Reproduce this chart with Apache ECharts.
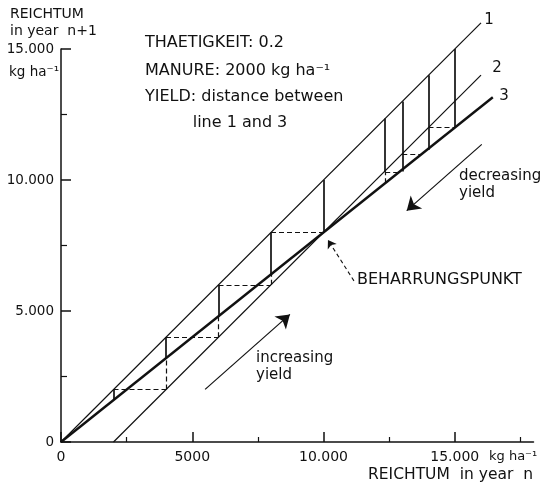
<!DOCTYPE html>
<html><head><meta charset="utf-8">
<script src="https://cdn.jsdelivr.net/npm/echarts@6/dist/echarts.min.js"></script>
<style>html,body{margin:0;padding:0;background:#fff}#c{width:545px;height:486px}</style>
</head><body><div id="c"></div>
<script>
// ---- axis ticks / labels ----
const xTickValues = [0, 5000, 10000, 15000];
const xTickLabels = ['0', '5000', '10.000', '15.000'];
const xMinorTicks = [2500, 7500, 12500, 17500];
const yTickValues = [0, 5000, 10000, 15000];
const yTickLabels = ['0', '5.000', '10.000', '15.000'];

// ---- the three lines (start/end points, kg/ha) ----
const line1 = [[0, 0], [16000, 16000]];
const line2 = [[2000, 0], [16000, 14000]];
const line3 = [[0, 0], [16450, 13160]];

// ---- increasing-yield staircase ----
const incX = [2000, 4000, 6000, 8000, 10000];
const incLine1 = [2000, 4000, 6000, 8000, 10000];
const incLine3 = [1600, 3200, 4800, 6400, 8000];
const incLine2 = [null, 2000, 4000, 6000, 8000];

// ---- decreasing-yield staircase ----
const decX = [15000, 14000, 13000, 12350];
const decLine1 = [15000, 14000, 13000, 12350];
const decSolidBottom = [12000, 11150, 10320, 10300];
const decDashedBottom = [null, null, null, 9880];
const decDashY = [12000, 11000, 10300];
const decDashFrom = [14000, 13000, 12350];
const decDashTo = [15000, 13750, 12900];

// ---- annotation arrows ----
const arrowIncreasing = [[5490, 2010], [8720, 4870]];
const arrowDecreasing = [[16030, 11360], [13170, 8830]];
const arrowPunkt = [[11160, 6150], [10170, 7710]];

const FF = 'DejaVu Sans';
const BLACK = '#111';

const mainLines = [
  { coords: line1, lineStyle: { width: 1.2 } },
  { coords: line2, lineStyle: { width: 1.2 } },
  { coords: line3, lineStyle: { width: 2.4 } }
];

const solidSteps = [];
const dashedSteps = [];
incX.forEach((x, i) => {
  solidSteps.push({ coords: [[x, incLine3[i]], [x, incLine1[i]]] });
  if (incLine2[i] !== null && incLine2[i] < incLine3[i]) {
    dashedSteps.push({ coords: [[x, incLine2[i]], [x, incLine3[i]]] });
  }
  if (i < incX.length - 1) {
    dashedSteps.push({ coords: [[x, incLine1[i]], [incX[i + 1], incLine1[i]]] });
  }
});
decX.forEach((x, i) => {
  solidSteps.push({ coords: [[x, decSolidBottom[i]], [x, decLine1[i]]] });
  if (decDashedBottom[i] !== null) {
    dashedSteps.push({ coords: [[x, decDashedBottom[i]], [x, decSolidBottom[i]]] });
  }
});
decDashY.forEach((y, i) => {
  dashedSteps.push({ coords: [[decDashFrom[i], y], [decDashTo[i], y]] });
});

const chart = echarts.init(document.getElementById('c'), null, { renderer: 'canvas' });

const txt = (x, y, text, size, extra) => Object.assign({
  type: 'text', x: x, y: y,
  style: Object.assign({ text: text, font: size + 'px "' + FF + '"', fill: BLACK, verticalAlign: 'middle', align: 'left' }, extra || {})
});

chart.setOption({
  animation: false,
  backgroundColor: '#fff',
  grid: { left: 61, top: 49, right: 11.5, bottom: 44, containLabel: false },
  xAxis: [
    {
      type: 'value', min: 0, max: 18000,
      axisLine: { lineStyle: { color: BLACK, width: 1.5 } },
      axisTick: { show: true, inside: true, length: 10, customValues: xTickValues, lineStyle: { color: BLACK, width: 1.5 } },
      axisLabel: {
        customValues: xTickValues,
        formatter: v => xTickLabels[xTickValues.indexOf(v)],
        color: BLACK, fontSize: 14, fontFamily: FF, margin: 8
      },
      splitLine: { show: false }
    },
    {
      type: 'value', min: 0, max: 18000, position: 'bottom', offset: 0,
      axisLine: { show: false },
      axisTick: { show: true, inside: true, length: 5, customValues: xMinorTicks, lineStyle: { color: BLACK, width: 1.2 } },
      axisLabel: { show: false },
      splitLine: { show: false }
    }
  ],
  yAxis: {
    type: 'value', min: 0, max: 15000, interval: 5000,
    axisLine: { show: true, lineStyle: { color: BLACK, width: 1.5 } },
    axisTick: { show: true, inside: true, length: 10, lineStyle: { color: BLACK, width: 1.5 } },
    minorTick: { show: true, splitNumber: 2, length: 6, lineStyle: { color: BLACK, width: 1.2 } },
    axisLabel: {
      formatter: v => yTickLabels[yTickValues.indexOf(v)],
      color: BLACK, fontSize: 13.5, fontFamily: FF, margin: 7
    },
    splitLine: { show: false }, minorSplitLine: { show: false }
  },
  series: [
    {
      type: 'lines', coordinateSystem: 'cartesian2d', clip: false, silent: true,
      lineStyle: { color: BLACK, opacity: 1 }, symbol: 'none',
      data: mainLines
    },
    {
      type: 'lines', coordinateSystem: 'cartesian2d', clip: false, silent: true,
      lineStyle: { color: BLACK, width: 1.7, opacity: 1 }, symbol: 'none',
      data: solidSteps
    },
    {
      type: 'lines', coordinateSystem: 'cartesian2d', clip: false, silent: true,
      lineStyle: { color: BLACK, width: 1.2, type: [5, 3], opacity: 1 }, symbol: 'none',
      data: dashedSteps
    },
    {
      type: 'lines', coordinateSystem: 'cartesian2d', clip: false, silent: true,
      lineStyle: { color: BLACK, width: 1.2, opacity: 1 },
      symbol: ['none', 'arrow'], symbolSize: 13,
      data: [{ coords: arrowIncreasing }, { coords: arrowDecreasing }]
    },
    {
      type: 'lines', coordinateSystem: 'cartesian2d', clip: false, silent: true,
      lineStyle: { color: BLACK, width: 1.1, type: [4, 3], opacity: 1 },
      symbol: ['none', 'arrow'], symbolSize: 8,
      data: [{ coords: arrowPunkt }]
    }
  ],
  graphic: [
    txt(10, 14, 'REICHTUM', 14),
    txt(10, 31, 'in year  n+1', 14),
    txt(9, 72, 'kg ha⁻¹', 13.5),
    txt(145, 43, 'THAETIGKEIT: 0.2', 16),
    txt(145, 71, 'MANURE: 2000 kg ha⁻¹', 16),
    txt(145, 97, 'YIELD: distance between', 16),
    txt(240, 123, 'line 1 and 3', 16, { align: 'center' }),
    txt(489, 20, '1', 15, { align: 'center' }),
    txt(497, 68, '2', 15, { align: 'center' }),
    txt(504, 96, '3', 15, { align: 'center' }),
    txt(459, 176, 'decreasing', 15),
    txt(459, 193, 'yield', 15),
    txt(256, 358, 'increasing', 15),
    txt(256, 375, 'yield', 15),
    txt(357, 280, 'BEHARRUNGSPUNKT', 16),
    txt(489, 457, 'kg ha⁻¹', 13),
    txt(533, 475, 'REICHTUM  in year  n', 15.5, { align: 'right' })
  ]
});
</script>
</body></html>
